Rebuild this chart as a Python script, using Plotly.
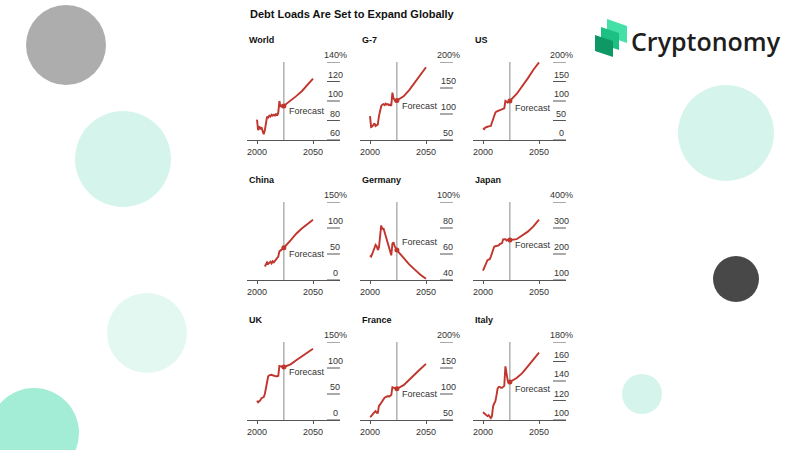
import plotly.graph_objects as go

# ---------------- data ----------------
FORECAST_YEAR = 2024
OUTLOOK_YEARS = [2030, 2035, 2040, 2045, 2050]
HIST_YEARS = list(range(2000, 2025))

WORLD_YEARS = HIST_YEARS + OUTLOOK_YEARS
WORLD_DEBT = [81, 70, 74, 71, 73, 68, 66, 70, 80, 84, 83, 85, 84, 86, 85, 86, 85, 87, 85, 88, 100, 94, 96, 93, 95,
              100, 105, 110, 116, 123]
WORLD_TICKS = [60, 80, 100, 120, 140]

G7_YEARS = HIST_YEARS + OUTLOOK_YEARS
G7_DEBT = [96, 75, 76, 79, 82, 77, 78, 80, 96, 108, 115, 118, 119, 117, 120, 118, 119, 117, 118, 116, 141, 130, 126, 124, 126,
           134, 146, 160, 175, 190]
G7_TICKS = [50, 100, 150, 200]

US_YEARS = HIST_YEARS + OUTLOOK_YEARS
US_DEBT = [30, 28, 32, 34, 34, 35, 35, 36, 45, 55, 64, 70, 73, 74, 75, 75, 77, 77, 80, 81, 100, 98, 96, 99, 100,
           118, 137, 158, 180, 199]
US_TICKS = [0, 50, 100, 150, 200]

CHINA_YEARS = list(range(2007, 2025)) + OUTLOOK_YEARS
CHINA_DEBT = [26, 32, 34, 31, 33, 35, 32, 36, 34, 37, 39, 42, 45, 55, 57, 59, 60, 62,
              76, 89, 99, 107, 116]
CHINA_TICKS = [0, 50, 100, 150]

GERMANY_YEARS = HIST_YEARS + OUTLOOK_YEARS
GERMANY_DEBT = [59, 58, 60, 63, 65, 67, 66, 63, 65, 72, 82, 79, 80, 77, 74, 71, 68, 64, 61, 59, 68, 69, 66, 64, 63,
                57, 52, 48, 44, 41]
GERMANY_TICKS = [40, 60, 80, 100]

JAPAN_YEARS = HIST_YEARS + OUTLOOK_YEARS
JAPAN_DEBT = [136, 148, 158, 172, 176, 178, 180, 190, 203, 222, 228, 230, 231, 231, 233, 238, 240, 242, 256, 257, 257, 252,
              255, 254, 254, 257, 270, 286, 306, 332]
JAPAN_TICKS = [100, 200, 300, 400]

UK_YEARS = HIST_YEARS + OUTLOOK_YEARS
UK_DEBT = [37, 34, 36, 38, 42, 43, 44, 50, 64, 78, 84, 86, 87, 87, 86, 85, 85, 84, 84, 85, 104, 103, 102, 102, 102,
           107, 115, 122, 130, 137]
UK_TICKS = [0, 50, 100, 150]

FRANCE_YEARS = HIST_YEARS + OUTLOOK_YEARS
FRANCE_DEBT = [56, 57, 60, 64, 65, 67, 64, 64, 77, 80, 84, 88, 90, 93, 94, 95, 96, 95, 96, 98, 113, 112, 111, 110, 110,
               117, 128, 138, 148, 158]
FRANCE_TICKS = [50, 100, 150, 200]

ITALY_YEARS = HIST_YEARS + OUTLOOK_YEARS
ITALY_DEBT = [108, 107, 105, 104, 104, 105, 104, 102, 104, 114, 117, 119, 125, 132, 134, 134, 133, 133, 134, 135, 155, 147,
              141, 138, 139, 143, 148, 155, 162, 169]
ITALY_TICKS = [100, 120, 140, 160, 180]

X_TICKS = [2000, 2050]

PANELS = [
    ("World", WORLD_YEARS, WORLD_DEBT, WORLD_TICKS),
    ("G-7", G7_YEARS, G7_DEBT, G7_TICKS),
    ("US", US_YEARS, US_DEBT, US_TICKS),
    ("China", CHINA_YEARS, CHINA_DEBT, CHINA_TICKS),
    ("Germany", GERMANY_YEARS, GERMANY_DEBT, GERMANY_TICKS),
    ("Japan", JAPAN_YEARS, JAPAN_DEBT, JAPAN_TICKS),
    ("UK", UK_YEARS, UK_DEBT, UK_TICKS),
    ("France", FRANCE_YEARS, FRANCE_DEBT, FRANCE_TICKS),
    ("Italy", ITALY_YEARS, ITALY_DEBT, ITALY_TICKS),
]

# ---------------- layout / style ----------------
W, H = 800, 450
COL_X2000 = [257, 370, 483]       # pixel x of year 2000 per column
ROW_AXIS_Y = [140, 280, 420]      # pixel y of x-axis line per row
PLOT_H = 78                       # pixel height of plot area
PX_PER_YEAR = 1.12
X_RANGE = [1991, 2074]
FORECAST_LABEL_PX = [29, 34, 32, 26, 38, 35, 48, 26, 31]

RED = "#c0352c"
FONT = "Liberation Sans, Arial, sans-serif"
TXT = "#333333"

fig = go.Figure()
shapes = []
annotations = []
layout_axes = {}

for i, (name, years, vals, ticks) in enumerate(PANELS):
    r, c = divmod(i, 3)
    k = "" if i == 0 else str(i + 1)
    xa, ya = "x" + k, "y" + k
    c0 = COL_X2000[c]
    ay = ROW_AXIS_Y[r]
    x0px = c0 + (X_RANGE[0] - 2000) * PX_PER_YEAR
    x1px = c0 + (X_RANGE[1] - 2000) * PX_PER_YEAR
    layout_axes["xaxis" + k] = dict(
        domain=[x0px / W, x1px / W], range=X_RANGE, anchor=ya,
        tickvals=X_TICKS, ticktext=[str(t) for t in X_TICKS],
        ticks="outside", ticklen=3, tickcolor="#555", tickwidth=1,
        showline=True, linecolor="#555", linewidth=1,
        showgrid=False, zeroline=False, fixedrange=True,
        tickfont=dict(family=FONT, size=9, color=TXT),
    )
    layout_axes["yaxis" + k] = dict(
        domain=[(H - ay) / H, (H - ay + PLOT_H) / H], range=[ticks[0], ticks[-1]],
        anchor=xa, visible=False, fixedrange=True,
    )

    fig.add_trace(go.Scatter(
        x=years, y=vals, mode="lines", xaxis=xa, yaxis=ya,
        line=dict(color=RED, width=1.9), hoverinfo="skip", showlegend=False,
        cliponaxis=False,
    ))
    fi = years.index(FORECAST_YEAR)
    fig.add_trace(go.Scatter(
        x=[years[fi]], y=[vals[fi]], mode="markers", xaxis=xa, yaxis=ya,
        marker=dict(color=RED, size=5), hoverinfo="skip", showlegend=False,
    ))

    # forecast divider
    shapes.append(dict(type="line", xref=xa, yref=ya + " domain",
                       x0=FORECAST_YEAR, x1=FORECAST_YEAR, y0=0, y1=1,
                       line=dict(color="#8a8a8a", width=1), layer="below"))
    annotations.append(dict(xref=xa, yref=ya + " domain", x=FORECAST_YEAR,
                            y=FORECAST_LABEL_PX[i] / PLOT_H, xshift=3,
                            xanchor="left", yanchor="middle", showarrow=False,
                            text="Forecast", font=dict(family=FONT, size=9, color=TXT)))

    # right-side value scale
    gx0 = 2000 + 70 / PX_PER_YEAR
    glab = 2000 + 78 / PX_PER_YEAR
    for j, t in enumerate(ticks):
        shapes.append(dict(type="line", xref=xa, yref=ya, x0=gx0, x1=X_RANGE[1],
                           y0=t, y1=t, line=dict(color="#555", width=1)))
        label = f"{t}%" if j == len(ticks) - 1 else f"{t}"
        annotations.append(dict(xref=xa, yref=ya, x=glab, y=t, yshift=7,
                                xanchor="center", yanchor="middle", showarrow=False,
                                text=label, font=dict(family=FONT, size=9, color=TXT)))

    # panel title
    annotations.append(dict(xref="paper", yref="paper", x=(c0 - 10) / W,
                            y=(H - (ay - 100)) / H, xanchor="left", yanchor="middle",
                            showarrow=False, text=f"<b>{name}</b>",
                            font=dict(family=FONT, size=9, color="#111")))

# main title
annotations.append(dict(xref="paper", yref="paper", x=248 / W, y=(H - 14) / H,
                        xanchor="left", yanchor="middle", showarrow=False,
                        text="<b>Debt Loads Are Set to Expand Globally</b>",
                        font=dict(family=FONT, size=11, color="#111")))

# brand text
annotations.append(dict(xref="paper", yref="paper", x=629 / W, y=(H - 41) / H,
                        xanchor="left", yanchor="middle", showarrow=False,
                        text="Cryptonomy",
                        font=dict(family="Open Sans, sans-serif", size=25, color="#1e1e1e", weight=600)))

# decorative circles (cx, cy, r, color)
CIRCLES = [
    (66, 45, 40, "#adadad"),
    (123, 159, 48, "#d5f5ec"),
    (147, 333, 40, "#e3f8f1"),
    (34, 433, 45, "#a3ecd5"),
    (726, 133, 48, "#d5f5ec"),
    (736, 279, 23, "#484848"),
    (642, 394, 20, "#d5f5ec"),
]
for cx, cy, rr, col in CIRCLES:
    shapes.append(dict(type="circle", xref="paper", yref="paper",
                       x0=(cx - rr) / W, x1=(cx + rr) / W,
                       y0=(H - cy - rr) / H, y1=(H - cy + rr) / H,
                       fillcolor=col, line=dict(width=0), layer="below"))

# logo icon: three slanted blocks
def poly(pts):
    s = ""
    for n, (px, py) in enumerate(pts):
        s += ("M" if n == 0 else "L") + f"{px / W:.5f},{(H - py) / H:.5f} "
    return s + "Z"

LOGO = [
    ([(607, 19), (627, 26), (627, 43), (607, 36)], "#45e0a8"),
    ([(601, 27), (619, 33), (619, 50), (601, 44)], "#1cc083"),
    ([(595, 35), (613, 41), (613, 57), (595, 51)], "#0e9866"),
]
for pts, col in LOGO:
    shapes.append(dict(type="path", xref="paper", yref="paper", path=poly(pts),
                       fillcolor=col, line=dict(width=0)))

fig.update_layout(
    width=W, height=H, margin=dict(l=0, r=0, t=0, b=0),
    paper_bgcolor="white", plot_bgcolor="rgba(0,0,0,0)",
    showlegend=False, shapes=shapes, annotations=annotations,
    **layout_axes,
)

fig.write_html("out.html", config={"displayModeBar": False})
